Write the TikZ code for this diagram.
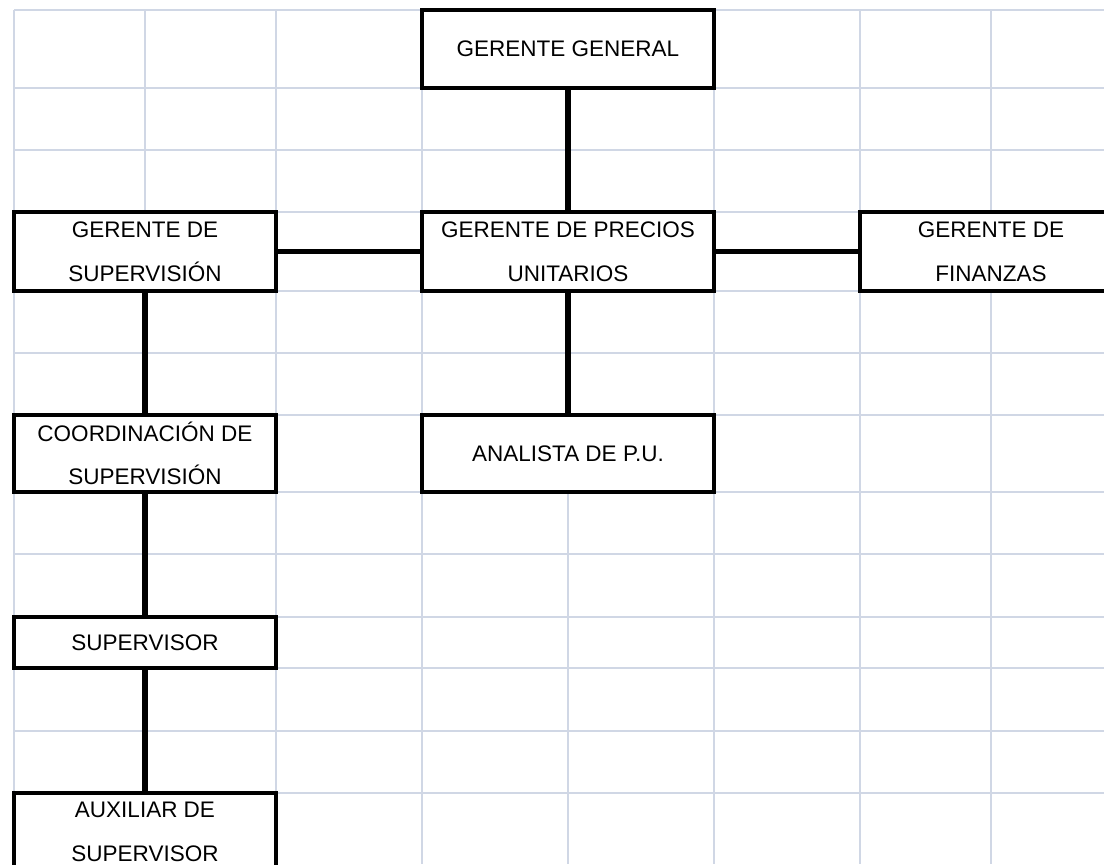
\documentclass[tikz,border=0pt]{standalone}
\usepackage{fontspec}
\setmainfont{Liberation Sans}
\definecolor{celda}{RGB}{208,215,229}
\tikzset{
    puesto/.style={
        draw=black,
        line width=2.8pt,
        fill=white,
        align=center,
        inner sep=0pt,
        font=\fontsize{16}{31}\selectfont
    },
    mando/.style={line width=4.3pt},
    enlace/.style={line width=2.9pt},
}
\begin{document}
\begin{tikzpicture}[x=0.025cm, y=-0.025cm]
    \clip (0,0) rectangle (1104,864);
    % hoja de calculo
    \draw[celda, line width=1.4pt]
    foreach \x in {14,145,276,422,568,714,860,991} {
        (\x,10) -- (\x,864)
    }
    foreach \y in {10,88,150,212,291,353,415,492,554,617,668,731,793} {
        (14,\y) -- (1104,\y)
    };

    \node[puesto, minimum width=7.3cm, minimum height=1.95cm] (gg) at (568,49) {GERENTE GENERAL};
    \node[puesto, minimum width=7.3cm, minimum height=1.975cm] (gpu) at (568,251.5) {GERENTE DE PRECIOS\\UNITARIOS};
    \node[puesto, minimum width=6.55cm, minimum height=1.975cm] (gs) at (145,251.5) {GERENTE DE\\SUPERVISIÓN};
    \node[puesto, minimum width=6.55cm, minimum height=1.975cm] (gf) at (991,251.5) {GERENTE DE\\FINANZAS};
    \node[puesto, minimum width=7.3cm, minimum height=1.925cm] (apu) at (568,453.5) {ANALISTA DE P.U.};
    \node[puesto, minimum width=6.55cm, minimum height=1.925cm] (coord) at (145,453.5) {COORDINACIÓN DE\\SUPERVISIÓN};
    \node[puesto, minimum width=6.55cm, minimum height=1.275cm] (sup) at (145,642.5) {SUPERVISOR};
    \node[puesto, minimum width=6.55cm, minimum height=1.95cm] (aux) at (145,832) {AUXILIAR DE\\SUPERVISOR};

    \draw[mando] (gg) -- (gpu);
    \draw[mando] (gpu) -- (apu);
    \draw[enlace] (gs) -- (gpu);
    \draw[enlace] (gpu) -- (gf);
    \draw[mando] (gs) -- (coord);
    \draw[mando] (coord) -- (sup);
    \draw[mando] (sup) -- (aux);
\end{tikzpicture}
\end{document}
